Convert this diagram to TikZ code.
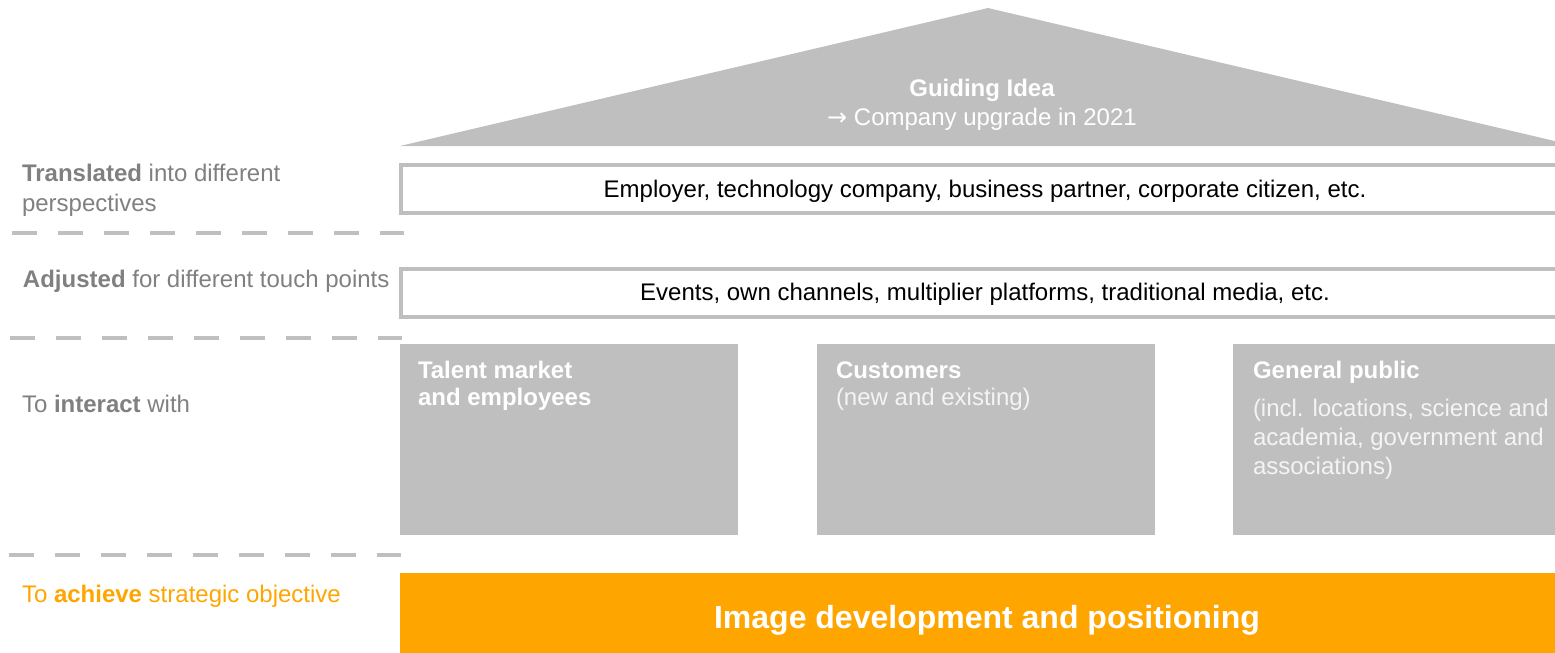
\documentclass[tikz,border=0pt]{standalone}
\usepackage{fontspec}
\setmainfont{Liberation Sans}
\newfontfamily\arrowfont{DejaVu Sans}
\definecolor{boxgray}{HTML}{BFBFBF}
\definecolor{labelgray}{HTML}{808080}
\definecolor{accent}{HTML}{FFA500}
\definecolor{softwhite}{HTML}{F4F4F4}
\begin{document}
\begin{tikzpicture}[x=0.5pt,y=-0.5pt,
  every node/.style={inner sep=0pt,outer sep=0pt},
  txt/.style={font=\fontsize{12}{15}\selectfont},
  sidelabel/.style={txt,anchor=base west,text=labelgray},
  goal/.style={txt,anchor=base west,text=accent},
  bandtext/.style={txt,anchor=base,text=black},
  pillarhead/.style={anchor=base west,text=white,font=\fontsize{12}{15}\selectfont\bfseries},
  pillartext/.style={txt,anchor=base west,text=softwhite},
  rooftext/.style={txt,anchor=base,text=white},
  band/.style={draw=boxgray,line width=1.6pt,fill=white},
  pillar/.style={fill=boxgray},
  divider/.style={draw=boxgray,line width=2pt,dash pattern=on 12.5pt off 10.5pt}]
\useasboundingbox (0,0) rectangle (1555,653);
\clip (0,0) rectangle (1555,653);

% roof
\fill[boxgray] (400,146) -- (988,8) -- (1576,146) -- cycle;
\node[anchor=base,text=white,font=\fontsize{12}{15}\selectfont\bfseries] (idea) at (982,96) {Guiding Idea};
\node[rooftext] (upgrade) at (982,125) {{\arrowfont →} Company upgrade in 2021};

% perspective band
\path[band] (401,165) rectangle (1570,213);
\node[bandtext] (persp) at (985,197) {Employer, technology company, business partner, corporate citizen, etc.};

% touch point band
\path[band] (401,269) rectangle (1570,317);
\node[bandtext] (touch) at (985,300) {Events, own channels, multiplier platforms, traditional media, etc.};

% dividers on the left
\coordinate (d1a) at (12,233); \coordinate (d1b) at (404,233);
\coordinate (d2a) at (10,338); \coordinate (d2b) at (402,338);
\coordinate (d3a) at (9,555);  \coordinate (d3b) at (401,555);
\draw[divider] (d1a) -- (d1b);
\draw[divider] (d2a) -- (d2b);
\draw[divider] (d3a) -- (d3b);

% side labels
\node[sidelabel] (l1a) at (22,181) {\textbf{Translated} into different};
\node[sidelabel] (l1b) at (22,211) {perspectives};
\node[sidelabel] (l2) at (23,287) {\textbf{Adjusted} for different touch points};
\node[sidelabel] (l3) at (22,412) {To \textbf{interact} with};
\node[goal] (l4) at (22,602) {To \textbf{achieve} strategic objective};

% pillars
\fill[pillar] (400,344) rectangle (738,535);
\fill[pillar] (817,344) rectangle (1155,535);
\fill[pillar] (1233,344) rectangle (1571,535);

\node[pillarhead] (p1a) at (418,378) {Talent market};
\node[pillarhead] (p1b) at (418,405) {and employees};
\node[pillarhead] (p2a) at (836,378) {Customers};
\node[pillartext] (p2b) at (836,405) {(new and existing)};
\node[pillarhead] (p3a) at (1253,378) {General public};
\node[pillartext] (p3b) at (1253,416) {(incl. locations, science and};
\node[pillartext] (p3c) at (1253,445) {academia, government and};
\node[pillartext] (p3d) at (1253,474) {associations)};

% foundation
\fill[accent] (400,573) rectangle (1570,653);
\node[anchor=base,text=white,font=\fontsize{16}{19}\selectfont\bfseries] (found) at (987,628) {Image development and positioning};
\end{tikzpicture}
\end{document}
